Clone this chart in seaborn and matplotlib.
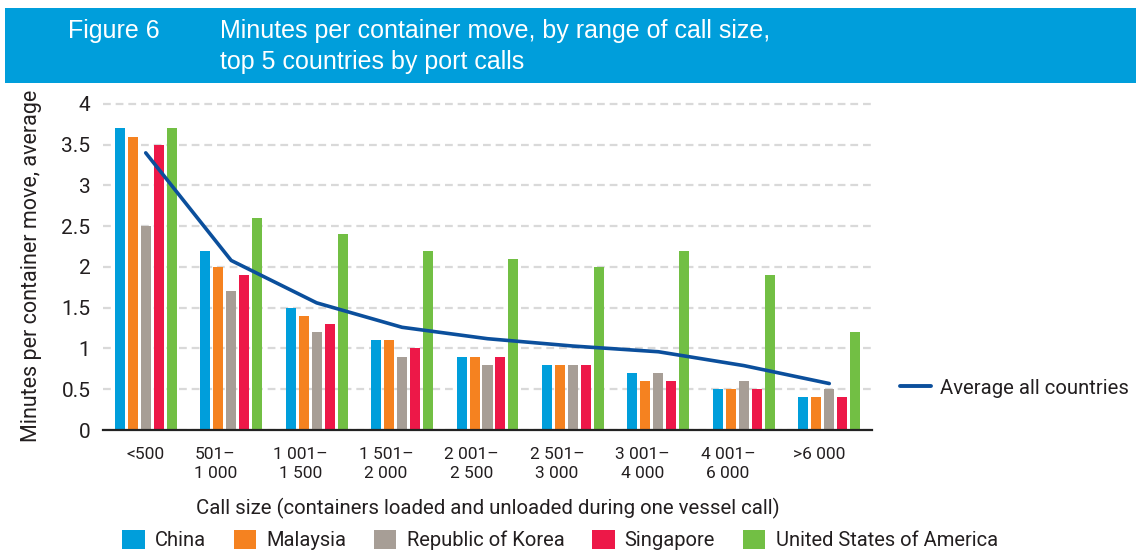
import numpy as np
import pandas as pd
import matplotlib
matplotlib.use("Agg")
import matplotlib.pyplot as plt
from matplotlib.patches import Rectangle, Patch
from matplotlib.lines import Line2D
import matplotlib.transforms as mtransforms
import seaborn as sns

# ---- data ----
categories = ["<500", "501–\n1 000", "1 001–\n1 500", "1 501–\n2 000", "2 001–\n2 500",
              "2 501–\n3 000", "3 001–\n4 000", "4 001–\n6 000", ">6 000"]
countries = ["China", "Malaysia", "Republic of Korea", "Singapore", "United States of America"]
china = [3.7, 2.2, 1.5, 1.1, 0.9, 0.8, 0.7, 0.5, 0.4]
malaysia = [3.6, 2.0, 1.4, 1.1, 0.9, 0.8, 0.6, 0.5, 0.4]
korea = [2.5, 1.7, 1.2, 0.9, 0.8, 0.8, 0.7, 0.6, 0.5]
singapore = [3.5, 1.9, 1.3, 1.0, 0.9, 0.8, 0.6, 0.5, 0.4]
usa = [3.7, 2.6, 2.4, 2.2, 2.1, 2.0, 2.2, 1.9, 1.2]
average_all = [3.40, 2.08, 1.56, 1.26, 1.12, 1.03, 0.96, 0.79, 0.57]
ytick_labels = ["0", "0.5", "1", "1.5", "2", "2.5", "3", "3.5", "4"]

colors = ["#009edb", "#f58220", "#a79e96", "#ed1848", "#72bf44"]
line_color = "#0b4f9c"
text_color = "#231f20"

sns.set_theme(style="white")
plt.rcParams["font.family"] = ["Roboto", "DejaVu Sans"]

rows = []
for name, vals in zip(countries, [china, malaysia, korea, singapore, usa]):
    for c, v in zip(categories, vals):
        rows.append({"size": c, "country": name, "value": v})
df = pd.DataFrame(rows)

fig = plt.figure(figsize=(11.36, 5.5), dpi=100)
ax = fig.add_axes([103/1136, 1-430/550, (872-103)/1136, (430-101.5)/550])

sns.barplot(data=df, x="size", y="value", hue="country", order=categories,
            hue_order=countries, palette=colors, width=0.76, gap=0.23,
            saturation=1, ax=ax, legend=False, linewidth=0)
sns.lineplot(x=np.arange(len(categories)), y=average_all, color=line_color,
             linewidth=2.6, ax=ax, legend=False)

ax.set_xlim(-0.5, 8.5)
ax.set_ylim(0, 4.03)
ax.set_yticks(np.arange(0, 4.01, 0.5))
ax.set_yticklabels(ytick_labels)
ax.yaxis.grid(True, color="#d9d9d9", linestyle=(0, (3.5, 2.2)), linewidth=1.6)
ax.set_axisbelow(True)
for s in ["top", "right", "left"]:
    ax.spines[s].set_visible(False)
ax.spines["bottom"].set_color("#222222")
ax.spines["bottom"].set_linewidth(1.6)
ax.spines["bottom"].set_zorder(5)
ax.tick_params(axis="y", length=0, pad=9, labelsize=15, labelcolor=text_color)
ax.tick_params(axis="x", length=0, pad=12, labelsize=12.5, labelcolor=text_color)
for i, lbl in enumerate(ax.get_xticklabels()):
    lbl.set_multialignment("center")
    lbl.set_linespacing(1.35)
    if 1 <= i <= 7:
        lbl.set_transform(lbl.get_transform() + mtransforms.ScaledTranslation(-16/100, 0, fig.dpi_scale_trans))
    elif i == 8:
        lbl.set_transform(lbl.get_transform() + mtransforms.ScaledTranslation(-10/100, 0, fig.dpi_scale_trans))

ax.set_xlabel("Call size (containers loaded and unloaded during one vessel call)",
              fontsize=14.7, color=text_color, labelpad=12)
ax.set_ylabel("Minutes per container move, average", fontsize=15.5, color=text_color,
              labelpad=14)

# header band
fig.patches.append(Rectangle((5/1136, 1-83/550), 1-5/1136, 75/550, transform=fig.transFigure,
                             facecolor="#009edb", edgecolor="none", zorder=0))
hfam = ["Liberation Sans", "DejaVu Sans"]
fig.text(68/1136, 1-31/550, "Figure 6", color="white", fontsize=18, va="center", family=hfam)
fig.text(220/1136, 1-31/550, "Minutes per container move, by range of call size,", color="white",
         fontsize=18, va="center", family=hfam)
fig.text(220/1136, 1-62/550, "top 5 countries by port calls", color="white",
         fontsize=18, va="center", family=hfam)

# legends
handles = [Patch(facecolor=c, edgecolor="none", label=n) for c, n in zip(colors, countries)]
leg = fig.legend(handles=handles, loc="center", bbox_to_anchor=(560/1136, 1-540/550), ncol=5,
                 frameon=False, fontsize=14.5, handlelength=1.1, handleheight=1.1,
                 handletextpad=0.5, columnspacing=1.4, borderpad=0, borderaxespad=0)
for t in leg.get_texts():
    t.set_color(text_color)

leg2 = fig.legend(handles=[Line2D([0], [0], color=line_color, lw=2.8, label="Average all countries")],
                  loc="center left", bbox_to_anchor=(900/1136, 1-388/550), frameon=False,
                  fontsize=14.6, handlelength=1.55, handletextpad=0.4, borderpad=0, borderaxespad=0)
for t in leg2.get_texts():
    t.set_color(text_color)

fig.savefig("out.png", dpi=100)
